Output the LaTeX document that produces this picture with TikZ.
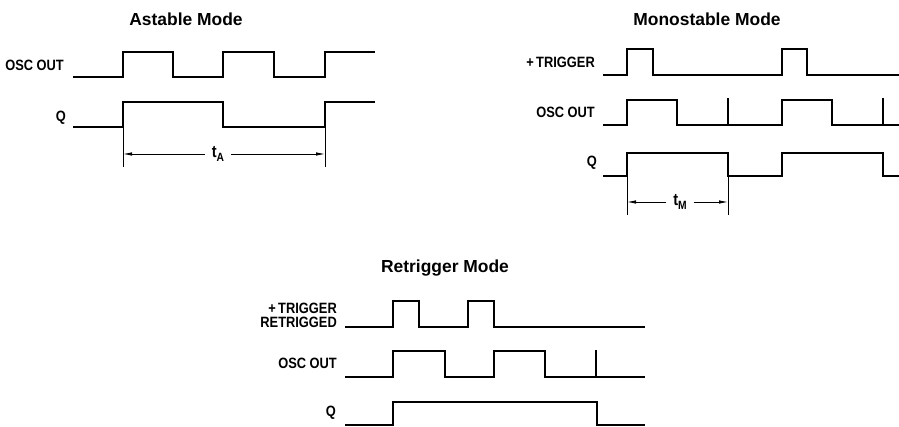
\documentclass[tikz,border=0pt]{standalone}
\usepackage{fontspec}
\setmainfont{Liberation Sans}
\newfontfamily\sigfont[FakeStretch=0.86]{Liberation Sans}
\usetikzlibrary{arrows.meta}

\begin{document}
\begin{tikzpicture}[>={Latex[length=9bp,width=3.5bp]},line join=miter,
  wave/.style={line width=2.8bp},
  dim/.style={line width=0.8bp},
  title/.style={font=\fontsize{17.5}{20}\selectfont\bfseries},
  sig/.style={font=\sigfont\bfseries\fontsize{15}{16}\selectfont,inner sep=0pt,anchor=east},
  ]
\useasboundingbox (0bp,0bp) rectangle (899bp,427bp);
%% Astable
\node (node_0) at (186bp,408bp) [title] {Astable Mode};
  \node (node_1) at (64bp,362bp) [sig] {OSC OUT};
  \node (node_2) at (66bp,309bp) [sig] {Q};
  \draw [wave] (73bp,350bp) -- (123bp,350bp) -- (123bp,375bp) -- (173bp,375bp) -- (173bp,350bp) -- (223bp,350bp) -- (223bp,375bp) -- (274bp,375bp) -- (274bp,350bp) -- (325bp,350bp) -- (325bp,375bp) -- (375bp,375bp);
  \draw [wave] (73bp,300bp) -- (123bp,300bp) -- (123bp,325bp) -- (223bp,325bp) -- (223bp,300bp) -- (325bp,300bp) -- (325bp,325bp) -- (375bp,325bp);
  \node (node_3) at (218bp,273bp) [sig,anchor=center,inner sep=7bp] {\fontsize{17}{17}\selectfont t\raisebox{-3.5bp}{\fontsize{12}{12}\selectfont A}};
  \coordinate (node_4) at (123bp,273bp);
  \coordinate (node_5) at (325bp,273bp);
  \draw [dim] (123bp,300bp) -- (123bp,260bp);
  \draw [dim] (325bp,300bp) -- (325bp,260bp);
  \draw [dim,->] (node_3) -- (node_4);
  \draw [dim,->] (node_3) -- (node_5);
%% Monostable
\node (node_6) at (707bp,408bp) [title] {Monostable Mode};
  \node (node_7) at (595bp,365bp) [sig] {+\,TRIGGER};
  \node (node_8) at (595bp,315bp) [sig] {OSC OUT};
  \node (node_9) at (597bp,264bp) [sig] {Q};
  \draw [wave] (603bp,352bp) -- (627bp,352bp) -- (627bp,378bp) -- (653bp,378bp) -- (653bp,352bp) -- (782bp,352bp) -- (782bp,378bp) -- (807bp,378bp) -- (807bp,352bp) -- (899bp,352bp);
  \draw [wave] (603bp,302bp) -- (627bp,302bp) -- (627bp,327bp) -- (677bp,327bp) -- (677bp,302bp) -- (782bp,302bp) -- (782bp,327bp) -- (832bp,327bp) -- (832bp,302bp) -- (899bp,302bp);
  \draw [wave] (728bp,302bp) -- (728bp,329bp);
  \draw [wave] (883bp,302bp) -- (883bp,329bp);
  \draw [wave] (603bp,251bp) -- (627bp,251bp) -- (627bp,274bp) -- (728bp,274bp) -- (728bp,251bp) -- (782bp,251bp) -- (782bp,274bp) -- (883bp,274bp) -- (883bp,251bp) -- (899bp,251bp);
  \node (node_10) at (680bp,225bp) [sig,anchor=center,inner sep=7bp] {\fontsize{17}{17}\selectfont t\raisebox{-3.5bp}{\fontsize{12}{12}\selectfont M}};
  \coordinate (node_11) at (627bp,225bp);
  \coordinate (node_12) at (728bp,225bp);
  \draw [dim] (627bp,251bp) -- (627bp,212bp);
  \draw [dim] (728bp,251bp) -- (728bp,212bp);
  \draw [dim,->] (node_10) -- (node_11);
  \draw [dim,->] (node_10) -- (node_12);
%% Retrigger
\node (node_13) at (445bp,159bp) [title] {Retrigger Mode};
  \node (node_14) at (337bp,112bp) [sig,align=right] {+\,TRIGGER\\[-2bp]RETRIGGED};
  \node (node_15) at (337bp,64bp) [sig] {OSC OUT};
  \node (node_16) at (336bp,14bp) [sig] {Q};
  \draw [wave] (345bp,100bp) -- (393bp,100bp) -- (393bp,126bp) -- (419bp,126bp) -- (419bp,100bp) -- (468bp,100bp) -- (468bp,126bp) -- (494bp,126bp) -- (494bp,100bp) -- (645bp,100bp);
  \draw [wave] (345bp,50bp) -- (393bp,50bp) -- (393bp,76bp) -- (445bp,76bp) -- (445bp,50bp) -- (494bp,50bp) -- (494bp,76bp) -- (545bp,76bp) -- (545bp,50bp) -- (645bp,50bp);
  \draw [wave] (596bp,50bp) -- (596bp,77bp);
  \draw [wave] (345bp,2bp) -- (393bp,2bp) -- (393bp,25bp) -- (597bp,25bp) -- (597bp,2bp) -- (645bp,2bp);
%
\end{tikzpicture}
\end{document}
